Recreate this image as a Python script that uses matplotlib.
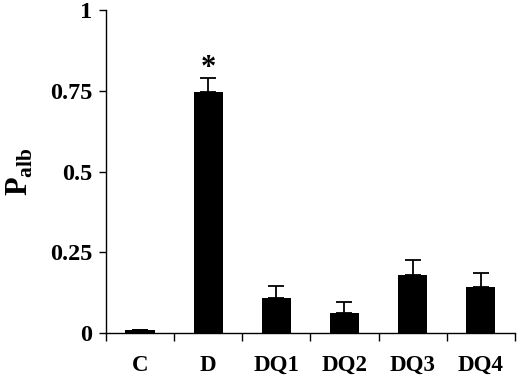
import matplotlib.pyplot as plt
import numpy as np

groups = ["C", "D", "DQ1", "DQ2", "DQ3", "DQ4"]
palb = [0.01, 0.746, 0.109, 0.062, 0.180, 0.141]
palb_err = [0.0, 0.044, 0.036, 0.034, 0.047, 0.046]
yticks = [0, 0.25, 0.5, 0.75, 1]
ytick_labels = ["0", "0.25", "0.5", "0.75", "1"]

plt.rcParams["font.family"] = ["Liberation Serif", "DejaVu Serif"]
plt.rcParams["font.weight"] = "bold"
plt.rcParams["mathtext.fontset"] = "custom"
plt.rcParams["mathtext.rm"] = "Liberation Serif:bold"
plt.rcParams["mathtext.bf"] = "Liberation Serif:bold"

fig = plt.figure(figsize=(5.2, 3.77), dpi=100)
ax = fig.add_axes([0.204, 0.1167, 0.786, 0.8563])

x = np.arange(len(groups))
ax.bar(x, palb, width=0.43, color="black", zorder=2)
# only upper half of error bars
ax.errorbar(x, palb, yerr=[np.zeros(len(x)), palb_err], fmt="none",
            ecolor="black", elinewidth=1.3, capsize=6, capthick=1.3, zorder=1)
ax.text(1, 0.775, "*", ha="center", va="bottom", fontsize=22)

ax.set_xlim(-0.5, len(groups) - 0.5)
ax.set_ylim(0, 1)
ax.set_xticks(np.arange(len(groups) + 1) - 0.5)
ax.set_xticklabels([])
ax.set_xticks(x, minor=True)
ax.set_xticklabels(groups, minor=True, fontsize=16.5, fontweight="bold")
ax.tick_params(axis="x", which="major", direction="out", length=6, width=1)
ax.tick_params(axis="x", which="minor", length=0, pad=16)
ax.set_yticks(yticks)
ax.set_yticklabels(ytick_labels, fontsize=17.5, fontweight="bold")
ax.tick_params(axis="y", direction="out", length=5, width=1, pad=5)

for s in ["top", "right"]:
    ax.spines[s].set_visible(False)
for s in ["left", "bottom"]:
    ax.spines[s].set_linewidth(1)

ax.set_ylabel(r"$\mathbf{P}_{\mathbf{alb}}$", fontsize=22, labelpad=11)

fig.savefig("out.png", dpi=100)
